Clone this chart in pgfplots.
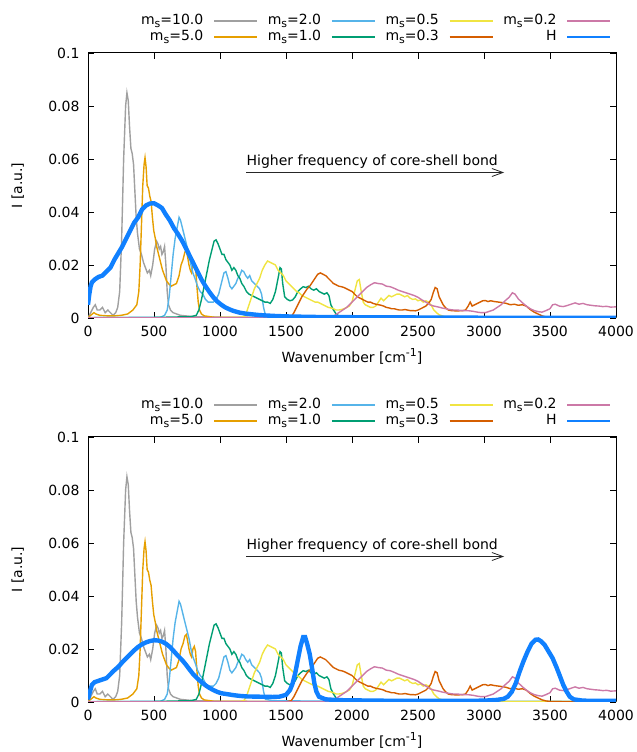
\documentclass[border=0pt]{standalone}
\usepackage{pgfplots}
\pgfplotsset{compat=1.18}
\usepackage{pgfplotstable}
\usepackage{fontspec}
\setmainfont{DejaVu Sans}
\usetikzlibrary{arrows.meta}

\definecolor{cGray}{RGB}{160,160,160}
\definecolor{cOrange}{RGB}{230,159,0}
\definecolor{cSky}{RGB}{86,180,233}
\definecolor{cGreen}{RGB}{0,158,115}
\definecolor{cYellow}{RGB}{240,228,66}
\definecolor{cVerm}{RGB}{213,94,0}
\definecolor{cPink}{RGB}{204,121,167}
\definecolor{cH}{RGB}{16,128,255}

\newcommand{\fs}{\fontsize{14bp}{16.8bp}\selectfont}
\newcommand{\ms}[1]{m\raisebox{-0.22em}{\fontsize{11bp}{11bp}\selectfont s}=#1}

% spectra, shell mass m_s
\pgfplotstableread{
x y
0 0.000
20 0.002
40 0.004
55 0.005
70 0.003
90 0.003
110 0.004
130 0.002
150 0.003
170 0.002
190 0.001
210 0.002
225 0.004
240 0.010
255 0.030
270 0.060
285 0.080
295 0.085
305 0.082
315 0.072
325 0.064
335 0.062
345 0.058
355 0.048
365 0.038
375 0.032
390 0.026
405 0.024
420 0.021
435 0.019
450 0.017
465 0.018
475 0.016
490 0.020
505 0.026
520 0.029
530 0.028
540 0.026
550 0.027
560 0.024
570 0.025
580 0.027
590 0.020
600 0.010
610 0.005
625 0.003
645 0.002
700 0.001
800 0.0005
1000 0.0003
1500 0.0002
4000 0.0001
}\tabGray

\pgfplotstableread{
x y
0 0.000
20 0.001
45 0.002
60 0.0015
90 0.001
150 0.0008
200 0.0008
250 0.001
300 0.0015
340 0.003
370 0.005
385 0.010
395 0.020
405 0.035
415 0.050
425 0.058
432 0.0605
440 0.057
448 0.050
458 0.049
468 0.046
478 0.044
488 0.038
498 0.033
510 0.030
520 0.027
535 0.024
550 0.021
565 0.018
580 0.016
595 0.014
610 0.013
630 0.012
650 0.0125
670 0.013
690 0.016
705 0.020
720 0.022
735 0.025
745 0.0255
755 0.023
765 0.020
775 0.018
785 0.017
795 0.020
805 0.021
815 0.019
825 0.012
835 0.006
845 0.003
860 0.0015
880 0.0008
950 0.0003
1500 0.0001
4000 0.0001
}\tabOrange

\pgfplotstableread{
x y
0 0.0002
300 0.0002
550 0.0003
580 0.001
600 0.003
615 0.008
630 0.016
645 0.024
660 0.030
675 0.034
690 0.038
700 0.037
710 0.035
720 0.033
735 0.030
750 0.027
765 0.024
780 0.020
795 0.017
810 0.015
830 0.012
850 0.010
870 0.009
890 0.007
910 0.006
930 0.006
950 0.006
970 0.007
990 0.009
1010 0.013
1030 0.017
1045 0.0175
1060 0.015
1075 0.012
1090 0.011
1105 0.012
1120 0.013
1135 0.015
1150 0.016
1165 0.018
1180 0.0175
1195 0.016
1210 0.015
1225 0.016
1240 0.014
1260 0.013
1280 0.012
1300 0.011
1315 0.009
1330 0.004
1345 0.001
1400 0.0005
2000 0.0002
4000 0.0001
}\tabSky

\pgfplotstableread{
x y
0 0.0001
500 0.0002
780 0.0005
820 0.001
840 0.003
860 0.007
880 0.012
900 0.017
920 0.022
940 0.026
955 0.029
970 0.0295
985 0.028
1000 0.026
1015 0.024
1030 0.024
1045 0.022
1060 0.021
1075 0.020
1090 0.018
1105 0.019
1120 0.018
1135 0.016
1150 0.015
1165 0.013
1180 0.012
1200 0.010
1220 0.009
1240 0.0085
1260 0.008
1280 0.0075
1300 0.007
1320 0.0065
1340 0.006
1360 0.006
1380 0.0055
1400 0.007
1420 0.010
1440 0.015
1455 0.019
1465 0.0185
1475 0.013
1490 0.008
1510 0.007
1530 0.0065
1550 0.0068
1570 0.008
1590 0.010
1610 0.011
1630 0.0118
1650 0.0115
1670 0.012
1690 0.011
1710 0.0105
1730 0.011
1750 0.010
1770 0.0095
1790 0.009
1810 0.0095
1825 0.0085
1840 0.005
1860 0.003
1880 0.0015
1900 0.0008
1950 0.0003
4000 0.0001
}\tabGreen

\pgfplotstableread{
x y
0 0.0001
1150 0.0001
1180 0.0005
1200 0.002
1220 0.005
1240 0.008
1260 0.011
1280 0.013
1300 0.015
1320 0.018
1340 0.020
1360 0.0215
1380 0.021
1400 0.0205
1420 0.020
1440 0.018
1460 0.017
1480 0.016
1500 0.014
1520 0.013
1540 0.012
1560 0.011
1580 0.010
1600 0.0095
1620 0.0085
1640 0.008
1660 0.0075
1680 0.007
1700 0.0065
1720 0.006
1740 0.006
1760 0.0055
1780 0.005
1800 0.0045
1820 0.004
1840 0.0038
1860 0.0035
1880 0.003
1900 0.003
1920 0.0032
1940 0.0035
1960 0.004
1980 0.0045
2000 0.006
2020 0.010
2040 0.014
2055 0.0145
2070 0.010
2085 0.006
2100 0.005
2120 0.0045
2140 0.004
2160 0.004
2180 0.0045
2200 0.006
2220 0.0075
2240 0.0065
2260 0.0075
2280 0.0085
2300 0.008
2320 0.0085
2340 0.009
2360 0.009
2380 0.0085
2400 0.008
2420 0.0085
2440 0.0075
2460 0.007
2480 0.0072
2500 0.0065
2520 0.0068
2540 0.006
2560 0.0065
2580 0.006
2600 0.0048
2620 0.003
2640 0.002
2660 0.0012
2700 0.0005
2800 0.0002
4000 0.0001
}\tabYellow

\pgfplotstableread{
x y
0 0.0001
1500 0.0001
1540 0.0005
1560 0.002
1580 0.004
1600 0.006
1620 0.008
1640 0.0095
1660 0.011
1680 0.012
1700 0.0135
1720 0.015
1740 0.0165
1760 0.017
1780 0.0165
1800 0.016
1820 0.015
1840 0.014
1860 0.013
1880 0.0125
1900 0.012
1920 0.0118
1940 0.0115
1960 0.011
1980 0.0105
2000 0.010
2020 0.009
2040 0.008
2060 0.0075
2080 0.007
2100 0.0065
2120 0.006
2140 0.006
2160 0.0055
2180 0.0052
2200 0.005
2220 0.0048
2240 0.0045
2260 0.004
2280 0.0038
2300 0.0035
2320 0.0035
2340 0.0032
2360 0.003
2380 0.003
2400 0.0032
2420 0.003
2440 0.0028
2460 0.0028
2480 0.0027
2500 0.003
2520 0.0035
2540 0.004
2560 0.0045
2580 0.0055
2600 0.007
2615 0.0095
2630 0.0115
2645 0.011
2660 0.008
2675 0.0065
2690 0.005
2710 0.0038
2730 0.003
2750 0.0028
2780 0.0027
2810 0.0027
2840 0.0028
2860 0.003
2880 0.0045
2895 0.006
2910 0.0045
2930 0.005
2950 0.0055
2970 0.006
2990 0.0065
3010 0.0066
3030 0.0062
3050 0.0065
3080 0.0062
3110 0.006
3140 0.0058
3170 0.0055
3200 0.005
3230 0.0052
3260 0.0048
3290 0.005
3320 0.0045
3350 0.0032
3380 0.0022
3410 0.0015
3440 0.0008
3470 0.0004
3500 0.0002
3600 0.0001
4000 0.0001
}\tabVerm

\pgfplotstableread{
x y
0 0.0001
1800 0.0001
1840 0.0003
1870 0.001
1900 0.002
1930 0.003
1960 0.004
1990 0.0055
2020 0.007
2050 0.0085
2080 0.010
2110 0.0115
2140 0.0125
2170 0.0133
2200 0.013
2230 0.0128
2260 0.012
2290 0.0118
2320 0.0112
2350 0.0105
2380 0.010
2410 0.0095
2440 0.009
2470 0.0085
2500 0.0078
2530 0.0068
2560 0.006
2590 0.005
2620 0.0045
2650 0.0042
2680 0.0038
2710 0.0035
2740 0.0032
2770 0.003
2800 0.003
2830 0.0028
2860 0.0028
2890 0.0027
2920 0.0025
2950 0.0022
2980 0.002
3010 0.002
3040 0.0025
3070 0.003
3100 0.004
3130 0.005
3160 0.0065
3190 0.0078
3215 0.0095
3235 0.009
3260 0.0072
3290 0.0058
3320 0.0045
3350 0.0035
3380 0.0028
3410 0.0024
3440 0.0022
3470 0.0028
3500 0.0035
3520 0.005
3540 0.0052
3570 0.0045
3600 0.0043
3630 0.0047
3660 0.0052
3690 0.0057
3720 0.0052
3750 0.0055
3780 0.005
3810 0.0048
3840 0.0046
3870 0.0045
3900 0.0043
3930 0.0044
3960 0.0041
4000 0.0042
}\tabPink

% hydrogen-like reference, first system
\pgfplotstableread{
x y
0 0.005
10 0.009
20 0.012
30 0.0135
50 0.0145
80 0.0155
110 0.016
140 0.0175
170 0.019
200 0.022
230 0.0245
260 0.027
290 0.030
320 0.033
350 0.036
380 0.038
410 0.041
440 0.0425
470 0.0432
500 0.0433
530 0.0425
560 0.0415
590 0.039
620 0.0368
650 0.034
680 0.0318
710 0.0294
740 0.0265
770 0.0235
800 0.0205
830 0.0175
860 0.0145
890 0.012
920 0.0098
950 0.0078
980 0.0062
1010 0.005
1040 0.004
1070 0.0033
1100 0.0027
1150 0.002
1200 0.0016
1300 0.0011
1400 0.0008
1500 0.0006
1700 0.0004
2000 0.0003
2500 0.0002
3000 0.0001
4000 0.0001
}\tabHa

% hydrogen-like reference, second system
\pgfplotstableread{
x y
0 0.001
15 0.004
30 0.0065
50 0.0075
80 0.008
110 0.0085
140 0.009
170 0.0105
200 0.012
230 0.0133
260 0.015
290 0.0165
320 0.018
350 0.0195
380 0.0208
410 0.0218
440 0.0225
470 0.023
500 0.0233
530 0.0232
560 0.0228
590 0.022
620 0.0208
650 0.0192
680 0.0175
710 0.016
740 0.0142
770 0.0122
800 0.0103
830 0.0088
860 0.0075
890 0.0063
920 0.0053
950 0.0045
980 0.0038
1010 0.0033
1050 0.003
1100 0.0026
1150 0.0023
1200 0.0021
1300 0.002
1400 0.0019
1450 0.002
1500 0.0027
1530 0.0045
1550 0.007
1570 0.011
1590 0.016
1610 0.021
1630 0.0245
1645 0.0245
1660 0.022
1680 0.018
1700 0.012
1715 0.007
1730 0.004
1750 0.002
1800 0.001
1900 0.0007
2200 0.0005
2600 0.0004
3000 0.0005
3100 0.0008
3150 0.0012
3180 0.002
3210 0.0038
3240 0.007
3270 0.0115
3300 0.0155
3330 0.019
3360 0.022
3390 0.0235
3410 0.0236
3430 0.023
3460 0.0215
3490 0.019
3520 0.0165
3550 0.013
3575 0.0098
3600 0.0065
3625 0.004
3650 0.002
3680 0.001
3750 0.0005
4000 0.0004
}\tabHb

\pgfplotsset{
  legend image code/.code={\draw[#1] (0bp,0bp) -- (43bp,0bp);},
}
\pgfplotsset{
  spec/.style={
    scale only axis, width=528bp, height=265bp,
    xmin=0, xmax=4000, ymin=0, ymax=0.1,
    xtick={0,500,...,4000},
    xticklabels={0,500,1000,1500,2000,2500,3000,3500,4000},
    ytick={0,0.02,0.04,0.06,0.08,0.1},
    yticklabels={0,0.02,0.04,0.06,0.08,0.1},
    tick align=inside, xtick pos=both, ytick pos=both,
    major tick length=6bp,
    every tick/.style={black, line width=0.8bp},
    axis line style={line width=1bp},
    tick label style={font=\fs},
    xticklabel style={yshift=-5bp},
    yticklabel style={xshift=-5bp},
    every axis x label/.style={at={(axis description cs:0.5,-0.1434)}, anchor=center, font=\fs},
    every axis y label/.style={at={(axis description cs:-0.133,0.5)}, rotate=90, anchor=center, font=\fs},
    xlabel={Wavenumber [cm\raisebox{0.42em}{\fontsize{11bp}{11bp}\selectfont -1}]},
    ylabel={I [a.u.]},
    legend columns=4, legend plot pos=right, legend cell align=right,
    legend style={at={(axis description cs:0.991,1.151)}, anchor=north east,
      draw=none, fill=none, inner sep=0pt, column sep=10bp, row sep=0pt, font=\fs,
      nodes={inner xsep=0pt, inner ysep=1bp, text height=10.5bp, text depth=3.5bp}},
  },
  specline/.style={line width=1.4bp, forget plot},
}

\newcommand{\commoncurves}{%
  \addplot[cGray, specline] table {\tabGray};
  \addplot[cOrange, specline] table {\tabOrange};
  \addplot[cSky, specline] table {\tabSky};
  \addplot[cGreen, specline] table {\tabGreen};
  \addplot[cYellow, specline] table {\tabYellow};
  \addplot[cVerm, specline] table {\tabVerm};
  \addplot[cPink, specline] table {\tabPink};
}
\newcommand{\commonlegend}{%
  \addlegendimage{color=cGray, line width=1.4bp}\addlegendentry{\ms{10.0}}
  \addlegendimage{color=cSky, line width=1.4bp}\addlegendentry{\ms{2.0}}
  \addlegendimage{color=cYellow, line width=1.4bp}\addlegendentry{\ms{0.5}}
  \addlegendimage{color=cPink, line width=1.4bp}\addlegendentry{\ms{0.2}}
  \addlegendimage{color=cOrange, line width=1.4bp}\addlegendentry{\ms{5.0}}
  \addlegendimage{color=cGreen, line width=1.4bp}\addlegendentry{\ms{1.0}}
  \addlegendimage{color=cVerm, line width=1.4bp}\addlegendentry{\ms{0.3}}
  \addlegendimage{color=cH, line width=1.4bp}\addlegendentry{H}
  \draw[-{Straight Barb[length=11bp,width=8bp]}, line width=0.8bp, black!85]
    (axis cs:1200,0.0549) -- (axis cs:3152,0.0549);
  \node[anchor=base west, inner sep=0pt, font=\fs] at (axis cs:1200,0.0577)
    {Higher frequency of core-shell bond};
}

\begin{document}
\begin{tikzpicture}[x=1bp, y=1bp]
\useasboundingbox (0,0) rectangle (637,752);

\begin{axis}[spec, at={(88bp,434bp)}, anchor=south west]
  \commoncurves
  \addplot[cH, line width=4.4bp, forget plot] table {\tabHa};
  \commonlegend
\end{axis}

\begin{axis}[spec, at={(88bp,50bp)}, anchor=south west]
  \commoncurves
  \addplot[cH, line width=4.4bp, forget plot] table {\tabHb};
  \commonlegend
\end{axis}
\end{tikzpicture}
\end{document}
